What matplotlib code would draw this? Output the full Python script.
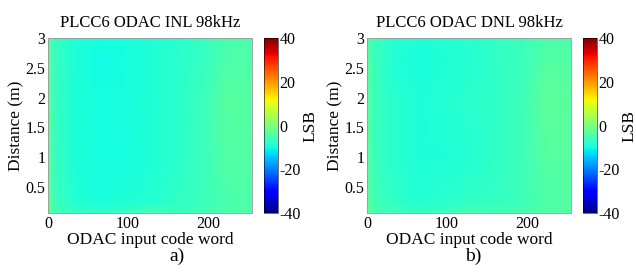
import matplotlib
matplotlib.use('Agg')
import matplotlib.pyplot as plt
import numpy as np

plt.rcParams['font.family'] = 'Liberation Serif'
plt.rcParams['axes.unicode_minus'] = False

# code word positions (columns) and distances (rows) of the read-off grid
codes = [0, 8, 32, 64, 96, 128, 160, 192, 224, 255]
dist = [0.06, 0.25, 1.0, 2.0, 2.6, 3.0]

# INL [LSB], rows follow dist, columns follow codes
inl = [
    [-2.5, -5.0, -6.0, -7.0, -6.5, -4.5, -6.0, -5.5, -4.5, -4.0],
    [-2.5, -6.0, -8.5, -9.5, -9.0, -8.5, -7.5, -6.5, -5.0, -4.5],
    [-2.5, -6.5, -9.0, -10.0, -10.0, -9.0, -8.0, -6.5, -4.0, -4.0],
    [-2.5, -6.5, -9.0, -10.0, -9.5, -9.0, -8.0, -6.5, -3.5, -4.0],
    [-2.5, -6.5, -9.0, -10.3, -10.0, -9.0, -8.0, -7.0, -4.5, -4.5],
    [-3.0, -6.5, -8.5, -10.0, -9.5, -9.0, -8.0, -7.0, -5.0, -5.0],
]

# DNL [LSB]
dnl = [
    [-3.0, -4.5, -5.5, -6.5, -6.0, -4.5, -5.5, -5.0, -4.0, -3.5],
    [-3.0, -5.5, -7.5, -8.5, -8.0, -7.5, -7.0, -6.0, -4.5, -4.0],
    [-3.0, -6.0, -8.0, -9.0, -9.0, -8.5, -7.5, -6.0, -3.5, -3.5],
    [-3.0, -6.0, -8.0, -9.0, -8.5, -8.0, -7.5, -6.0, -3.0, -3.5],
    [-3.0, -6.0, -8.5, -9.5, -9.0, -8.5, -7.5, -6.5, -4.0, -4.0],
    [-3.5, -6.0, -8.0, -9.0, -8.5, -8.0, -7.5, -6.5, -4.5, -4.5],
]

titles = ['PLCC6 ODAC INL 98kHz', 'PLCC6 ODAC DNL 98kHz']
panels = ['a)', 'b)']
fsz = 11.5
lsz = 12.5

fig = plt.figure(figsize=(6.36, 2.73), dpi=100)

# [left, bottom, width, height] in figure fractions
ax_pos = [[48/636, 60/273, 204/636, 175/273],
          [367/636, 60/273, 204/636, 175/273]]
cb_pos = [[264/636, 60/273, 14/636, 175/273],
          [583/636, 60/273, 14/636, 175/273]]
lab_x = [177/636, 473/636]

for data, title, pl, ap, cp, lx in zip([inl, dnl], titles, panels, ax_pos, cb_pos, lab_x):
    ax = fig.add_axes(ap)
    cax = fig.add_axes(cp)
    X, Y = np.meshgrid(codes, dist)
    m = ax.pcolormesh(X, Y, np.array(data), cmap='jet', vmin=-40, vmax=40,
                      shading='gouraud')
    ax.set_xlim(0, 255)
    ax.set_ylim(0.06, 3)
    ax.set_xticks([0, 100, 200])
    ax.set_yticks([0.5, 1, 1.5, 2, 2.5, 3])
    ax.set_yticklabels(['0.5', '1', '1.5', '2', '2.5', '3'])
    ax.tick_params(length=0, labelsize=fsz, pad=2)
    for s in ax.spines.values():
        s.set_color('#999999')
        s.set_linewidth(0.6)
    ax.set_title(title, fontsize=12, pad=8)
    ax.set_xlabel('ODAC input code word', fontsize=lsz, labelpad=0)
    ax.set_ylabel('Distance (m)', fontsize=lsz, labelpad=1)

    cb = fig.colorbar(m, cax=cax, ticks=[-40, -20, 0, 20, 40])
    cb.ax.tick_params(length=0, labelsize=fsz, pad=1)
    cb.outline.set_linewidth(0.4)
    cb.set_label('LSB', fontsize=lsz, labelpad=1)

    fig.text(lx, 0.06, pl, ha='center', va='center', fontsize=14)

plt.savefig('out.png', dpi=100)
